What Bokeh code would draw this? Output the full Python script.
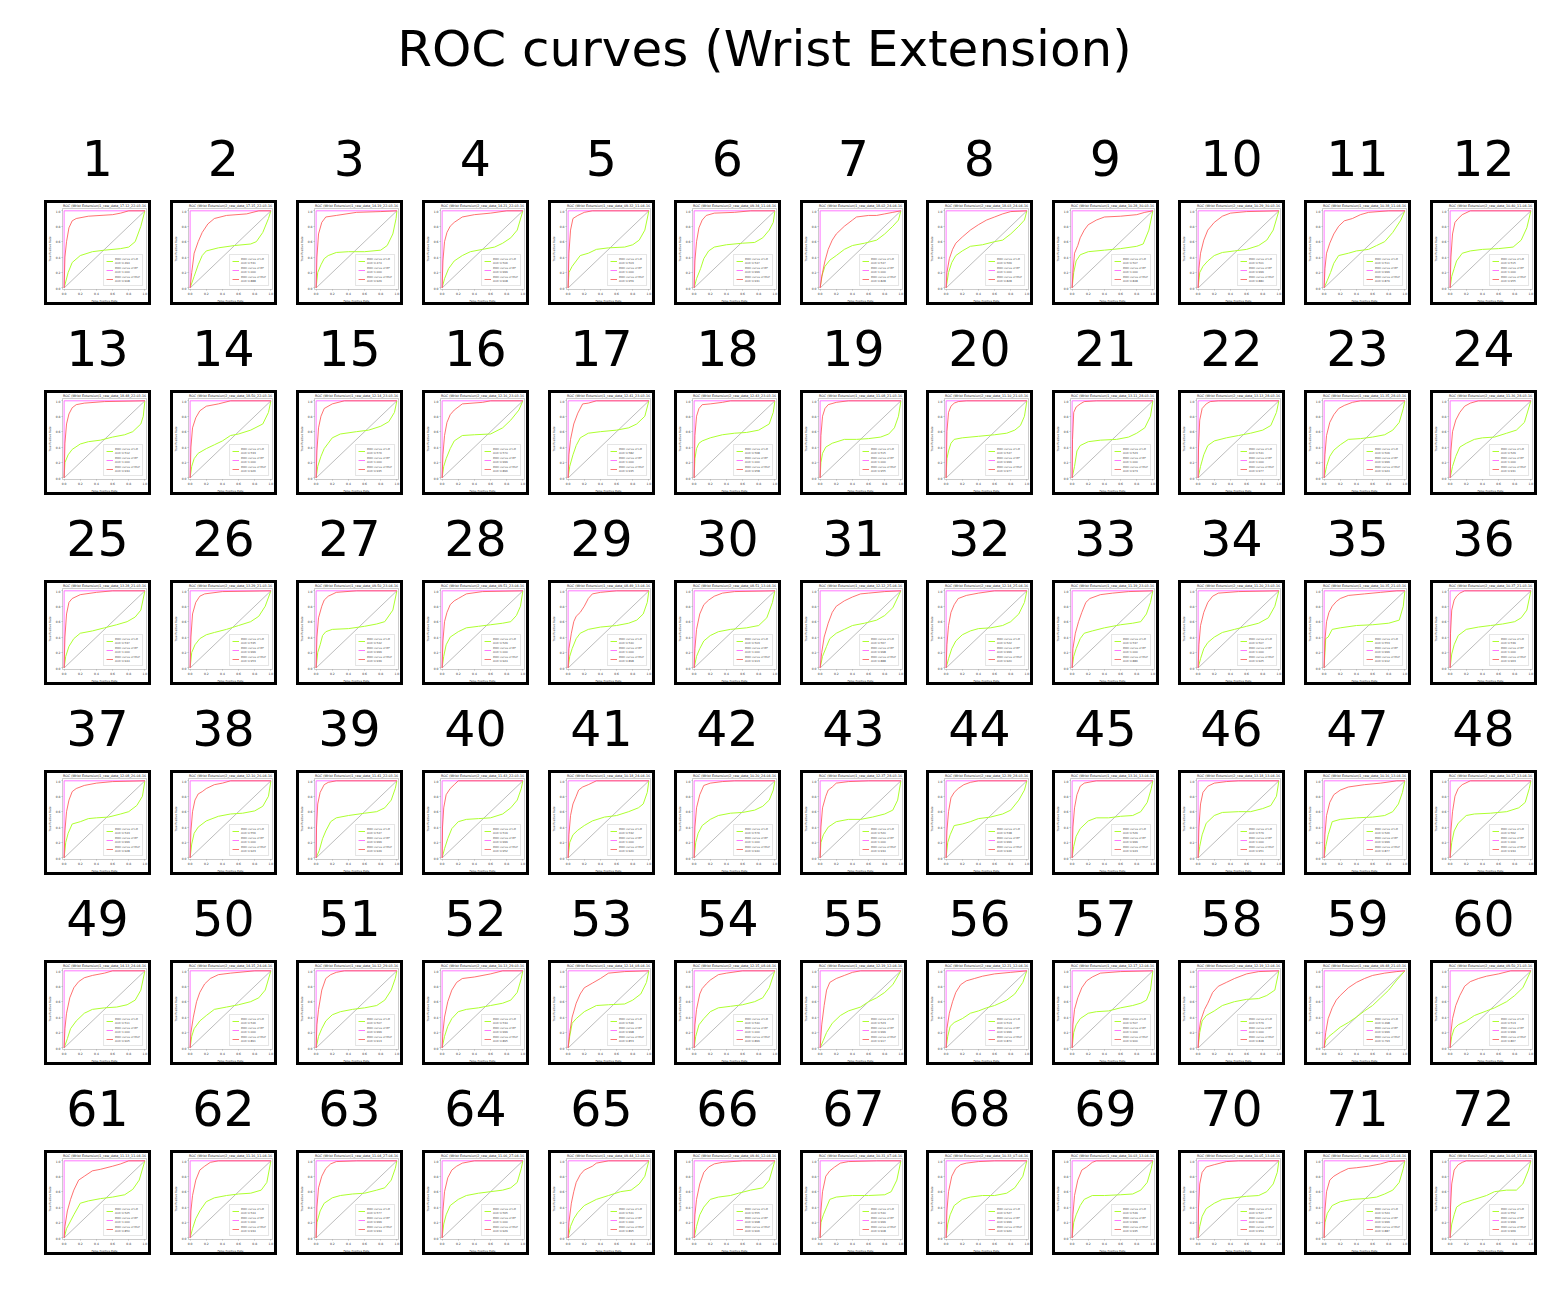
from bokeh.plotting import figure
from bokeh.layouts import column, row, gridplot
from bokeh.models import Range1d, Spacer, Legend, LegendItem, FixedTicker, PrintfTickFormatter
from bokeh.embed import file_html
from bokeh.resources import INLINE
from bokeh.core.properties import value

SUPTITLE = "ROC curves (Wrist Extension)"
PANEL_NUMBERS = [str(i) for i in range(1, 73)]
TICKS = [0.0, 0.2, 0.4, 0.6, 0.8, 1.0]
CHANCE = [0.0, 1.0]
RF_FPR = [0.0, 0.0, 1.0]
RF_TPR = [0.0, 1.0, 1.0]

RUN_NAMES = [
    "1_raw_data_17-12_22-03-16", "2_raw_data_17-15_22-03-16", "1_raw_data_14-19_22-03-16", "2_raw_data_14-21_22-03-16",
    "1_raw_data_09-32_11-04-16", "2_raw_data_09-34_11-04-16", "1_raw_data_18-02_24-04-16", "2_raw_data_18-03_24-04-16",
    "1_raw_data_10-28_30-03-16", "2_raw_data_10-29_30-03-16", "1_raw_data_10-38_11-04-16", "2_raw_data_10-40_11-04-16",
    "1_raw_data_18-48_22-03-16", "2_raw_data_18-50_22-03-16", "1_raw_data_12-14_23-03-16", "2_raw_data_12-16_23-03-16",
    "1_raw_data_12-41_23-03-16", "2_raw_data_12-43_23-03-16", "1_raw_data_11-08_21-03-16", "2_raw_data_11-10_21-03-16",
    "1_raw_data_13-11_28-03-16", "2_raw_data_13-13_28-03-16", "1_raw_data_11-35_28-03-16", "2_raw_data_11-36_28-03-16",
    "1_raw_data_13-28_21-03-16", "2_raw_data_13-29_21-03-16", "1_raw_data_09-50_23-04-16", "2_raw_data_09-51_23-04-16",
    "1_raw_data_08-49_13-04-16", "2_raw_data_08-51_13-04-16", "1_raw_data_12-12_25-04-16", "2_raw_data_12-14_25-04-16",
    "1_raw_data_11-19_23-03-16", "2_raw_data_11-20_23-03-16", "1_raw_data_10-35_21-03-16", "2_raw_data_10-37_21-03-16",
    "1_raw_data_12-08_26-04-16", "2_raw_data_12-10_26-04-16", "1_raw_data_11-41_22-03-16", "2_raw_data_11-43_22-03-16",
    "1_raw_data_10-18_24-04-16", "2_raw_data_10-20_24-04-16", "1_raw_data_12-37_28-03-16", "2_raw_data_12-39_28-03-16",
    "1_raw_data_13-16_13-04-16", "2_raw_data_13-18_13-04-16", "1_raw_data_10-16_13-04-16", "2_raw_data_10-17_13-04-16",
    "1_raw_data_14-13_24-04-16", "2_raw_data_14-15_24-04-16", "1_raw_data_10-12_29-03-16", "2_raw_data_10-13_29-03-16",
    "1_raw_data_12-14_08-04-16", "2_raw_data_12-15_08-04-16", "1_raw_data_12-19_12-04-16", "2_raw_data_12-21_12-04-16",
    "1_raw_data_12-17_12-04-16", "2_raw_data_12-19_12-04-16", "1_raw_data_09-48_21-03-16", "2_raw_data_09-50_21-03-16",
    "1_raw_data_11-13_11-04-16", "2_raw_data_11-16_11-04-16", "1_raw_data_11-04_27-04-16", "2_raw_data_11-06_27-04-16",
    "1_raw_data_09-44_12-04-16", "2_raw_data_09-46_12-04-16", "1_raw_data_10-31_07-04-16", "2_raw_data_10-33_07-04-16",
    "1_raw_data_10-03_13-04-16", "2_raw_data_10-05_13-04-16", "1_raw_data_10-03_15-04-16", "2_raw_data_10-04_15-04-16",
]

AUC_LR = [0.494, 0.531, 0.474, 0.506, 0.503, 0.547, 0.547, 0.569, 0.507, 0.501, 0.511, 0.515,
          0.512, 0.533, 0.576, 0.570, 0.582, 0.568, 0.515, 0.547, 0.523, 0.541, 0.509, 0.529,
          0.537, 0.535, 0.542, 0.529, 0.540, 0.503, 0.567, 0.522, 0.537, 0.507, 0.553, 0.539,
          0.543, 0.556, 0.547, 0.519, 0.532, 0.576, 0.520, 0.538, 0.529, 0.579, 0.526, 0.562,
          0.511, 0.546, 0.507, 0.534, 0.546, 0.540, 0.523, 0.513, 0.507, 0.579, 0.498, 0.513,
          0.525, 0.544, 0.577, 0.565, 0.541, 0.555, 0.540, 0.527, 0.549, 0.527, 0.524, 0.552]
AUC_RF = [1.000, 1.000, 1.000, 0.999, 1.000, 0.999, 1.000, 1.000, 1.000, 0.999, 0.999, 1.000,
          1.000, 1.000, 1.000, 0.999, 1.000, 1.000, 1.000, 0.999, 1.000, 1.000, 0.999, 1.000,
          1.000, 0.999, 0.999, 1.000, 1.000, 1.000, 0.998, 0.999, 1.000, 1.000, 0.999, 1.000,
          0.999, 1.000, 0.999, 0.999, 1.000, 1.000, 1.000, 0.999, 0.999, 1.000, 0.999, 1.000,
          1.000, 1.000, 0.999, 0.999, 0.998, 1.000, 0.999, 0.999, 1.000, 1.000, 0.999, 0.999,
          1.000, 1.000, 0.999, 1.000, 1.000, 0.998, 0.999, 0.999, 0.999, 1.000, 0.999, 0.999]
AUC_MLP = [0.908, 0.888, 0.929, 0.908, 0.959, 0.931, 0.828, 0.828, 0.848, 0.880, 0.879, 0.955,
           0.934, 0.926, 0.935, 0.896, 0.935, 0.958, 0.955, 0.977, 0.973, 0.977, 0.924, 0.931,
           0.944, 0.953, 0.939, 0.924, 0.898, 0.913, 0.888, 0.920, 0.886, 0.925, 0.912, 0.963,
           0.928, 0.923, 0.949, 0.952, 0.920, 0.940, 0.934, 0.946, 0.943, 0.951, 0.877, 0.934,
           0.905, 0.891, 0.913, 0.895, 0.853, 0.899, 0.917, 0.870, 0.900, 0.848, 0.793, 0.867,
           0.850, 0.934, 0.934, 0.929, 0.895, 0.906, 0.908, 0.920, 0.935, 0.954, 0.887, 0.969]

# (false positive rate, true positive rate) points, one list per panel
MLP_CURVES = [
    [(0,0),(0.01,0.4),(0.03,0.6),(0.06,0.78),(0.1,0.87),(0.15,0.9),(0.3,0.93),(0.6,0.95),(0.7,0.97),(0.8,1.0),(1,1)],
    [(0,0),(0.02,0.2),(0.05,0.45),(0.1,0.6),(0.15,0.72),(0.22,0.83),(0.3,0.9),(0.45,0.94),(0.7,0.96),(0.85,1.0),(1,1)],
    [(0,0),(0.01,0.4),(0.03,0.7),(0.07,0.85),(0.12,0.92),(0.25,0.94),(0.5,0.98),(0.8,0.99),(1,1)],
    [(0,0),(0.01,0.35),(0.03,0.6),(0.06,0.72),(0.1,0.8),(0.15,0.85),(0.25,0.92),(0.4,0.95),(0.6,0.97),(0.8,1.0),(1,1)],
    [(0,0),(0.01,0.45),(0.03,0.75),(0.06,0.9),(0.12,0.94),(0.2,0.98),(0.3,1.0),(1,1)],
    [(0,0),(0.01,0.35),(0.03,0.6),(0.06,0.78),(0.1,0.88),(0.15,0.94),(0.25,0.97),(0.5,0.98),(0.7,1.0),(1,1)],
    [(0,0),(0.03,0.2),(0.06,0.35),(0.1,0.5),(0.15,0.62),(0.2,0.7),(0.3,0.8),(0.4,0.88),(0.45,0.92),(0.6,0.94),(0.7,0.94),(0.8,0.96),(0.9,0.98),(1,1)],
    [(0,0),(0.01,0.2),(0.04,0.38),(0.08,0.5),(0.12,0.58),(0.2,0.66),(0.3,0.75),(0.4,0.82),(0.5,0.88),(0.6,0.92),(0.7,0.96),(0.8,0.99),(1,1)],
    [(0,0),(0.01,0.2),(0.03,0.45),(0.07,0.55),(0.1,0.65),(0.15,0.75),(0.2,0.82),(0.3,0.88),(0.4,0.92),(0.6,0.93),(0.8,0.95),(0.9,0.98),(1,1)],
    [(0,0),(0.01,0.25),(0.03,0.45),(0.07,0.62),(0.12,0.75),(0.2,0.85),(0.3,0.93),(0.4,0.97),(0.6,0.99),(1,1)],
    [(0,0),(0.01,0.25),(0.03,0.45),(0.07,0.58),(0.12,0.7),(0.18,0.8),(0.25,0.87),(0.35,0.9),(0.45,0.95),(0.55,0.98),(0.8,1.0),(1,1)],
    [(0,0),(0.01,0.4),(0.03,0.7),(0.06,0.85),(0.1,0.9),(0.15,0.95),(0.25,1.0),(1,1)],
    [(0,0),(0.01,0.45),(0.03,0.7),(0.06,0.83),(0.1,0.91),(0.15,0.95),(0.25,0.97),(0.5,0.99),(1,1)],
    [(0,0),(0.01,0.4),(0.03,0.65),(0.07,0.78),(0.12,0.87),(0.2,0.93),(0.35,0.96),(0.5,1.0),(1,1)],
    [(0,0),(0.01,0.35),(0.03,0.65),(0.06,0.8),(0.1,0.9),(0.2,0.96),(0.35,1.0),(1,1)],
    [(0,0),(0.01,0.3),(0.03,0.55),(0.06,0.72),(0.1,0.82),(0.15,0.88),(0.25,0.96),(0.5,0.98),(0.6,1.0),(1,1)],
    [(0,0),(0.01,0.3),(0.03,0.5),(0.07,0.7),(0.12,0.84),(0.18,0.96),(0.25,0.97),(0.35,1.0),(1,1)],
    [(0,0),(0.01,0.55),(0.03,0.8),(0.06,0.9),(0.1,0.95),(0.2,0.96),(0.35,0.98),(0.45,1.0),(1,1)],
    [(0,0),(0.01,0.55),(0.03,0.8),(0.06,0.9),(0.1,0.95),(0.2,0.98),(0.35,1.0),(1,1)],
    [(0,0),(0.01,0.6),(0.03,0.85),(0.06,0.93),(0.1,0.97),(0.15,0.99),(0.25,1.0),(1,1)],
    [(0,0),(0.005,0.5),(0.02,0.85),(0.05,0.92),(0.1,0.96),(0.15,0.99),(0.3,1.0),(1,1)],
    [(0,0),(0.005,0.4),(0.02,0.75),(0.05,0.9),(0.1,0.96),(0.15,0.99),(0.25,1.0),(1,1)],
    [(0,0),(0.01,0.3),(0.03,0.55),(0.07,0.72),(0.12,0.82),(0.18,0.9),(0.25,0.94),(0.35,0.98),(0.45,1.0),(1,1)],
    [(0,0),(0.01,0.35),(0.03,0.6),(0.07,0.75),(0.12,0.85),(0.18,0.93),(0.25,0.97),(0.35,1.0),(1,1)],
    [(0,0),(0.01,0.4),(0.03,0.7),(0.06,0.85),(0.1,0.9),(0.2,0.95),(0.4,0.98),(0.6,1.0),(1,1)],
    [(0,0),(0.01,0.4),(0.03,0.7),(0.07,0.85),(0.12,0.93),(0.18,0.96),(0.4,0.99),(1,1)],
    [(0,0),(0.01,0.4),(0.03,0.65),(0.07,0.8),(0.1,0.88),(0.15,0.93),(0.25,0.98),(0.5,1.0),(1,1)],
    [(0,0),(0.01,0.35),(0.03,0.6),(0.06,0.72),(0.1,0.82),(0.15,0.87),(0.2,0.9),(0.25,0.93),(0.3,0.96),(0.5,0.99),(1,1)],
    [(0,0),(0.01,0.25),(0.04,0.45),(0.07,0.6),(0.1,0.67),(0.15,0.72),(0.2,0.8),(0.25,0.9),(0.3,0.96),(0.4,0.98),(0.6,1.0),(1,1)],
    [(0,0),(0.01,0.25),(0.03,0.5),(0.07,0.7),(0.12,0.82),(0.18,0.88),(0.25,0.93),(0.35,0.97),(0.5,0.99),(1,1)],
    [(0,0),(0.02,0.2),(0.05,0.4),(0.1,0.58),(0.15,0.72),(0.2,0.8),(0.3,0.87),(0.4,0.92),(0.5,0.96),(0.6,0.97),(0.8,0.99),(1,1)],
    [(0,0),(0.01,0.3),(0.03,0.55),(0.06,0.72),(0.1,0.82),(0.15,0.9),(0.25,0.94),(0.4,0.97),(0.6,1.0),(1,1)],
    [(0,0),(0.01,0.25),(0.04,0.45),(0.08,0.6),(0.12,0.72),(0.17,0.85),(0.22,0.9),(0.35,0.95),(0.5,0.97),(0.7,0.99),(1,1)],
    [(0,0),(0.01,0.3),(0.03,0.55),(0.07,0.72),(0.12,0.85),(0.18,0.93),(0.25,0.97),(0.5,0.99),(1,1)],
    [(0,0),(0.01,0.35),(0.03,0.6),(0.06,0.72),(0.1,0.8),(0.15,0.86),(0.2,0.9),(0.3,0.94),(0.5,0.96),(0.7,0.98),(0.9,1.0),(1,1)],
    [(0,0),(0.005,0.45),(0.02,0.75),(0.05,0.88),(0.08,0.93),(0.12,0.97),(0.18,1.0),(1,1)],
    [(0,0),(0.01,0.35),(0.03,0.6),(0.06,0.75),(0.1,0.86),(0.15,0.9),(0.25,0.94),(0.4,0.97),(0.6,0.99),(1,1)],
    [(0,0),(0.01,0.35),(0.03,0.6),(0.06,0.75),(0.1,0.83),(0.15,0.86),(0.2,0.9),(0.3,0.95),(0.4,0.97),(0.5,1.0),(1,1)],
    [(0,0),(0.005,0.4),(0.02,0.7),(0.05,0.85),(0.1,0.95),(0.15,0.98),(0.25,1.0),(1,1)],
    [(0,0),(0.005,0.4),(0.02,0.65),(0.05,0.82),(0.1,0.9),(0.15,0.95),(0.2,1.0),(1,1)],
    [(0,0),(0.01,0.3),(0.03,0.55),(0.06,0.7),(0.1,0.8),(0.13,0.88),(0.18,0.92),(0.25,0.95),(0.35,1.0),(1,1)],
    [(0,0),(0.01,0.4),(0.03,0.65),(0.07,0.82),(0.12,0.94),(0.2,0.97),(0.35,0.99),(0.5,1.0),(1,1)],
    [(0,0),(0.01,0.4),(0.03,0.65),(0.07,0.8),(0.1,0.88),(0.15,0.92),(0.2,0.97),(0.35,0.99),(0.6,1.0),(1,1)],
    [(0,0),(0.01,0.35),(0.03,0.6),(0.06,0.78),(0.1,0.85),(0.15,0.9),(0.22,0.95),(0.3,0.98),(0.4,1.0),(1,1)],
    [(0,0),(0.01,0.4),(0.03,0.65),(0.06,0.82),(0.1,0.93),(0.15,0.97),(0.3,1.0),(1,1)],
    [(0,0),(0.01,0.4),(0.03,0.7),(0.06,0.85),(0.12,0.93),(0.2,0.97),(0.35,0.99),(0.5,1.0),(1,1)],
    [(0,0),(0.01,0.3),(0.03,0.55),(0.07,0.72),(0.12,0.82),(0.2,0.88),(0.3,0.92),(0.5,0.95),(0.7,0.97),(0.9,1.0),(1,1)],
    [(0,0),(0.01,0.35),(0.03,0.6),(0.06,0.8),(0.1,0.9),(0.15,0.95),(0.25,1.0),(1,1)],
    [(0,0),(0.01,0.25),(0.03,0.45),(0.07,0.65),(0.12,0.78),(0.18,0.86),(0.25,0.91),(0.35,0.94),(0.5,0.97),(0.6,1.0),(1,1)],
    [(0,0),(0.01,0.2),(0.04,0.4),(0.08,0.6),(0.12,0.72),(0.18,0.83),(0.25,0.9),(0.35,0.95),(0.5,0.97),(0.8,1.0),(1,1)],
    [(0,0),(0.01,0.3),(0.03,0.5),(0.07,0.75),(0.12,0.9),(0.18,0.95),(0.25,0.98),(0.35,1.0),(1,1)],
    [(0,0),(0.01,0.2),(0.03,0.4),(0.07,0.6),(0.12,0.75),(0.18,0.85),(0.25,0.9),(0.4,0.92),(0.6,0.96),(0.75,1.0),(1,1)],
    [(0,0),(0.02,0.2),(0.05,0.4),(0.1,0.58),(0.15,0.7),(0.2,0.78),(0.3,0.84),(0.4,0.9),(0.5,0.97),(0.7,0.99),(1,1)],
    [(0,0),(0.01,0.3),(0.03,0.5),(0.07,0.7),(0.1,0.77),(0.15,0.83),(0.2,0.88),(0.3,0.95),(0.4,0.97),(0.6,1.0),(1,1)],
    [(0,0),(0.02,0.3),(0.05,0.55),(0.08,0.75),(0.12,0.85),(0.2,0.9),(0.3,0.94),(0.4,0.98),(0.5,1.0),(1,1)],
    [(0,0),(0.01,0.25),(0.04,0.45),(0.08,0.6),(0.12,0.72),(0.18,0.82),(0.25,0.87),(0.35,0.9),(0.45,0.93),(0.6,0.96),(0.8,0.98),(1,1)],
    [(0,0),(0.01,0.3),(0.03,0.5),(0.07,0.65),(0.12,0.78),(0.18,0.87),(0.25,0.92),(0.35,0.97),(0.6,0.99),(1,1)],
    [(0,0),(0.01,0.2),(0.03,0.35),(0.08,0.5),(0.12,0.58),(0.18,0.72),(0.25,0.8),(0.35,0.85),(0.45,0.9),(0.6,0.96),(0.75,0.99),(1,1)],
    [(0,0),(0.02,0.2),(0.05,0.38),(0.1,0.52),(0.15,0.62),(0.2,0.68),(0.3,0.78),(0.4,0.85),(0.5,0.9),(0.6,0.94),(0.75,0.97),(0.9,0.99),(1,1)],
    [(0,0),(0.01,0.2),(0.03,0.38),(0.07,0.55),(0.12,0.68),(0.18,0.8),(0.25,0.86),(0.35,0.9),(0.45,0.93),(0.6,0.96),(0.75,1.0),(1,1)],
    [(0,0),(0.01,0.15),(0.04,0.35),(0.08,0.5),(0.12,0.62),(0.18,0.75),(0.25,0.8),(0.35,0.87),(0.45,0.89),(0.6,0.93),(0.7,0.96),(0.8,1.0),(1,1)],
    [(0,0),(0.01,0.35),(0.03,0.55),(0.07,0.75),(0.12,0.88),(0.18,0.93),(0.25,0.98),(0.35,1.0),(1,1)],
    [(0,0),(0.01,0.4),(0.03,0.65),(0.07,0.8),(0.12,0.9),(0.18,0.96),(0.25,0.99),(0.5,1.0),(1,1)],
    [(0,0),(0.01,0.35),(0.03,0.6),(0.07,0.78),(0.12,0.88),(0.18,0.93),(0.25,0.97),(0.4,1.0),(1,1)],
    [(0,0),(0.01,0.2),(0.04,0.45),(0.07,0.6),(0.1,0.72),(0.15,0.82),(0.2,0.88),(0.3,0.93),(0.35,0.97),(0.5,1.0),(1,1)],
    [(0,0),(0.01,0.3),(0.03,0.5),(0.07,0.7),(0.12,0.85),(0.18,0.92),(0.25,0.96),(0.35,0.98),(0.6,1.0),(1,1)],
    [(0,0),(0.01,0.35),(0.03,0.6),(0.07,0.8),(0.12,0.87),(0.18,0.92),(0.25,0.97),(0.35,0.99),(0.7,1.0),(1,1)],
    [(0,0),(0.01,0.35),(0.03,0.6),(0.07,0.8),(0.12,0.9),(0.18,0.95),(0.25,0.97),(0.4,0.99),(0.6,1.0),(1,1)],
    [(0,0),(0.01,0.3),(0.03,0.55),(0.07,0.75),(0.12,0.88),(0.18,0.92),(0.25,0.98),(0.3,1.0),(1,1)],
    [(0,0),(0.005,0.4),(0.02,0.7),(0.05,0.85),(0.1,0.92),(0.2,0.95),(0.35,0.99),(0.5,1.0),(1,1)],
    [(0,0),(0.01,0.35),(0.03,0.6),(0.07,0.75),(0.12,0.8),(0.2,0.85),(0.3,0.9),(0.4,0.91),(0.55,0.93),(0.7,0.96),(0.8,0.99),(1,1)],
    [(0,0),(0.005,0.4),(0.02,0.7),(0.05,0.88),(0.1,0.95),(0.15,0.98),(0.2,1.0),(1,1)],
]

LR_CURVES = [
    [(0,0),(0.05,0.2),(0.1,0.33),(0.2,0.42),(0.35,0.47),(0.5,0.49),(0.7,0.51),(0.8,0.53),(0.88,0.6),(0.95,0.8),(1,1)],
    [(0,0),(0.05,0.15),(0.1,0.3),(0.15,0.42),(0.2,0.48),(0.35,0.52),(0.55,0.55),(0.75,0.57),(0.82,0.6),(0.9,0.72),(0.97,0.9),(1,1)],
    [(0,0),(0.02,0.2),(0.06,0.3),(0.1,0.38),(0.15,0.42),(0.25,0.46),(0.4,0.47),(0.6,0.47),(0.8,0.49),(0.88,0.55),(0.95,0.7),(0.99,0.9),(1,1)],
    [(0,0),(0.03,0.12),(0.08,0.25),(0.15,0.35),(0.25,0.42),(0.35,0.47),(0.5,0.5),(0.65,0.53),(0.75,0.58),(0.85,0.65),(0.93,0.75),(1,1)],
    [(0,0),(0.01,0.2),(0.05,0.28),(0.1,0.35),(0.15,0.42),(0.25,0.45),(0.35,0.5),(0.5,0.52),(0.7,0.53),(0.8,0.56),(0.88,0.62),(0.95,0.75),(1,1)],
    [(0,0),(0.03,0.12),(0.08,0.25),(0.12,0.38),(0.18,0.48),(0.25,0.53),(0.4,0.56),(0.6,0.58),(0.75,0.59),(0.85,0.65),(0.93,0.75),(0.98,0.85),(1,1)],
    [(0,0),(0.02,0.15),(0.06,0.28),(0.12,0.36),(0.2,0.42),(0.3,0.5),(0.4,0.55),(0.55,0.58),(0.7,0.62),(0.8,0.7),(0.9,0.8),(0.97,0.88),(1,1)],
    [(0,0),(0.03,0.2),(0.07,0.33),(0.12,0.42),(0.2,0.48),(0.3,0.54),(0.45,0.56),(0.6,0.6),(0.7,0.62),(0.8,0.7),(0.9,0.8),(0.97,0.88),(1,1)],
    [(0,0),(0.02,0.2),(0.05,0.35),(0.1,0.43),(0.2,0.47),(0.4,0.49),(0.6,0.51),(0.8,0.54),(0.88,0.57),(0.95,0.75),(1,1)],
    [(0,0),(0.02,0.2),(0.06,0.28),(0.12,0.35),(0.2,0.42),(0.3,0.46),(0.45,0.48),(0.6,0.5),(0.75,0.55),(0.85,0.62),(0.93,0.75),(1,1)],
    [(0,0),(0.04,0.1),(0.08,0.2),(0.12,0.32),(0.18,0.42),(0.3,0.45),(0.4,0.48),(0.55,0.5),(0.65,0.55),(0.75,0.6),(0.85,0.72),(0.95,0.88),(1,1)],
    [(0,0),(0.02,0.15),(0.05,0.25),(0.08,0.35),(0.15,0.45),(0.25,0.48),(0.4,0.5),(0.6,0.51),(0.78,0.53),(0.88,0.62),(0.95,0.78),(1,1)],
    [(0,0),(0.01,0.2),(0.05,0.3),(0.1,0.37),(0.2,0.44),(0.3,0.47),(0.45,0.49),(0.6,0.53),(0.75,0.56),(0.85,0.6),(0.95,0.7),(0.98,0.8),(1,1)],
    [(0,0),(0.02,0.15),(0.05,0.25),(0.1,0.32),(0.2,0.38),(0.3,0.43),(0.4,0.48),(0.5,0.55),(0.6,0.57),(0.75,0.62),(0.9,0.7),(0.97,0.85),(1,1)],
    [(0,0),(0.02,0.15),(0.06,0.28),(0.1,0.38),(0.15,0.45),(0.2,0.52),(0.3,0.57),(0.5,0.6),(0.65,0.62),(0.8,0.67),(0.9,0.73),(0.97,0.85),(1,1)],
    [(0,0),(0.02,0.15),(0.05,0.25),(0.1,0.38),(0.15,0.48),(0.25,0.55),(0.4,0.56),(0.6,0.57),(0.75,0.65),(0.85,0.75),(0.95,0.88),(1,1)],
    [(0,0),(0.02,0.15),(0.06,0.3),(0.1,0.42),(0.15,0.52),(0.25,0.58),(0.4,0.6),(0.6,0.62),(0.75,0.65),(0.85,0.7),(0.95,0.8),(1,1)],
    [(0,0),(0.01,0.25),(0.03,0.38),(0.06,0.45),(0.1,0.48),(0.2,0.52),(0.35,0.56),(0.5,0.58),(0.65,0.59),(0.8,0.62),(0.93,0.7),(0.98,0.85),(1,1)],
    [(0,0),(0.01,0.2),(0.03,0.32),(0.07,0.4),(0.15,0.45),(0.3,0.5),(0.45,0.5),(0.6,0.51),(0.75,0.53),(0.85,0.57),(0.92,0.65),(0.97,0.8),(1,1)],
    [(0,0),(0.01,0.25),(0.03,0.35),(0.06,0.45),(0.1,0.5),(0.2,0.52),(0.4,0.54),(0.6,0.56),(0.75,0.58),(0.85,0.62),(0.92,0.68),(0.97,0.8),(1,1)],
    [(0,0),(0.03,0.15),(0.06,0.35),(0.1,0.42),(0.2,0.47),(0.35,0.49),(0.55,0.5),(0.7,0.53),(0.8,0.58),(0.9,0.65),(0.97,0.8),(1,1)],
    [(0,0),(0.03,0.15),(0.07,0.3),(0.12,0.42),(0.2,0.48),(0.35,0.52),(0.5,0.55),(0.65,0.58),(0.8,0.62),(0.9,0.68),(0.97,0.85),(1,1)],
    [(0,0),(0.03,0.15),(0.07,0.28),(0.12,0.36),(0.2,0.43),(0.3,0.5),(0.45,0.51),(0.6,0.53),(0.75,0.56),(0.85,0.62),(0.93,0.72),(0.98,0.9),(1,1)],
    [(0,0),(0.03,0.15),(0.07,0.28),(0.12,0.4),(0.2,0.45),(0.3,0.5),(0.4,0.52),(0.55,0.53),(0.7,0.58),(0.82,0.62),(0.92,0.72),(1,1)],
    [(0,0),(0.02,0.15),(0.06,0.28),(0.12,0.38),(0.2,0.45),(0.35,0.48),(0.5,0.52),(0.65,0.56),(0.78,0.6),(0.88,0.66),(0.95,0.75),(1,1)],
    [(0,0),(0.02,0.2),(0.06,0.3),(0.12,0.38),(0.2,0.43),(0.3,0.46),(0.45,0.5),(0.6,0.55),(0.75,0.6),(0.85,0.67),(0.93,0.8),(1,1)],
    [(0,0),(0.02,0.2),(0.05,0.3),(0.08,0.42),(0.12,0.47),(0.2,0.5),(0.4,0.51),(0.6,0.54),(0.75,0.57),(0.85,0.6),(0.95,0.75),(1,1)],
    [(0,0),(0.02,0.15),(0.05,0.3),(0.1,0.4),(0.2,0.47),(0.3,0.52),(0.45,0.54),(0.6,0.56),(0.75,0.58),(0.85,0.6),(0.92,0.68),(0.97,0.8),(1,1)],
    [(0,0),(0.02,0.15),(0.05,0.25),(0.1,0.38),(0.15,0.45),(0.25,0.5),(0.4,0.53),(0.6,0.55),(0.75,0.58),(0.85,0.62),(0.93,0.7),(0.98,0.85),(1,1)],
    [(0,0),(0.03,0.15),(0.07,0.25),(0.12,0.35),(0.2,0.42),(0.3,0.47),(0.45,0.5),(0.65,0.52),(0.8,0.55),(0.9,0.65),(0.97,0.85),(1,1)],
    [(0,0),(0.03,0.15),(0.08,0.28),(0.12,0.38),(0.2,0.45),(0.3,0.5),(0.4,0.55),(0.55,0.58),(0.7,0.62),(0.8,0.68),(0.9,0.78),(1,1)],
    [(0,0),(0.03,0.12),(0.07,0.25),(0.12,0.35),(0.2,0.43),(0.3,0.48),(0.4,0.51),(0.55,0.52),(0.7,0.55),(0.8,0.6),(0.9,0.7),(0.97,0.85),(1,1)],
    [(0,0),(0.02,0.15),(0.05,0.25),(0.1,0.38),(0.15,0.45),(0.25,0.48),(0.4,0.52),(0.6,0.56),(0.75,0.58),(0.85,0.6),(0.92,0.7),(0.97,0.85),(1,1)],
    [(0,0),(0.03,0.12),(0.07,0.25),(0.12,0.33),(0.2,0.4),(0.3,0.46),(0.45,0.5),(0.6,0.54),(0.75,0.58),(0.87,0.65),(0.95,0.8),(1,1)],
    [(0,0),(0.01,0.2),(0.02,0.38),(0.05,0.4),(0.1,0.5),(0.2,0.52),(0.4,0.55),(0.6,0.56),(0.8,0.58),(0.93,0.62),(0.98,0.8),(1,1)],
    [(0,0),(0.02,0.18),(0.05,0.3),(0.1,0.42),(0.2,0.5),(0.35,0.53),(0.5,0.55),(0.65,0.57),(0.8,0.6),(0.88,0.65),(0.95,0.75),(1,1)],
    [(0,0),(0.02,0.2),(0.05,0.32),(0.1,0.44),(0.2,0.47),(0.3,0.51),(0.4,0.52),(0.55,0.53),(0.7,0.57),(0.8,0.6),(0.9,0.68),(0.97,0.8),(1,1)],
    [(0,0),(0.02,0.18),(0.05,0.32),(0.1,0.4),(0.2,0.48),(0.35,0.54),(0.5,0.57),(0.65,0.58),(0.8,0.61),(0.9,0.67),(0.97,0.8),(1,1)],
    [(0,0),(0.04,0.1),(0.08,0.25),(0.12,0.35),(0.18,0.47),(0.25,0.52),(0.4,0.55),(0.6,0.58),(0.75,0.6),(0.85,0.65),(0.93,0.75),(0.98,0.9),(1,1)],
    [(0,0),(0.03,0.12),(0.07,0.25),(0.12,0.38),(0.2,0.47),(0.3,0.5),(0.45,0.51),(0.6,0.52),(0.75,0.57),(0.85,0.65),(0.93,0.75),(0.98,0.9),(1,1)],
    [(0,0),(0.02,0.2),(0.06,0.3),(0.12,0.36),(0.2,0.42),(0.3,0.48),(0.45,0.53),(0.6,0.55),(0.75,0.6),(0.87,0.65),(0.93,0.7),(0.98,0.85),(1,1)],
    [(0,0),(0.02,0.2),(0.05,0.32),(0.1,0.42),(0.2,0.5),(0.3,0.55),(0.45,0.58),(0.6,0.59),(0.75,0.62),(0.85,0.67),(0.93,0.75),(0.98,0.88),(1,1)],
    [(0,0),(0.01,0.2),(0.04,0.3),(0.1,0.4),(0.2,0.47),(0.35,0.5),(0.5,0.5),(0.65,0.53),(0.8,0.57),(0.9,0.62),(0.96,0.75),(1,1)],
    [(0,0),(0.02,0.2),(0.05,0.3),(0.1,0.42),(0.2,0.44),(0.3,0.47),(0.4,0.51),(0.55,0.53),(0.7,0.57),(0.8,0.62),(0.9,0.75),(0.97,0.88),(1,1)],
    [(0,0),(0.02,0.15),(0.05,0.28),(0.1,0.38),(0.2,0.48),(0.3,0.52),(0.45,0.52),(0.6,0.54),(0.75,0.55),(0.85,0.6),(0.93,0.72),(0.98,0.9),(1,1)],
    [(0,0),(0.02,0.15),(0.05,0.3),(0.1,0.45),(0.2,0.55),(0.3,0.59),(0.5,0.6),(0.65,0.6),(0.8,0.64),(0.9,0.68),(0.97,0.8),(1,1)],
    [(0,0),(0.02,0.15),(0.05,0.3),(0.1,0.47),(0.2,0.5),(0.4,0.52),(0.6,0.53),(0.75,0.55),(0.85,0.6),(0.92,0.7),(0.97,0.85),(1,1)],
    [(0,0),(0.02,0.2),(0.05,0.35),(0.1,0.45),(0.2,0.55),(0.3,0.57),(0.5,0.58),(0.7,0.6),(0.85,0.65),(0.93,0.72),(0.98,0.9),(1,1)],
    [(0,0),(0.04,0.12),(0.08,0.25),(0.15,0.35),(0.25,0.45),(0.35,0.5),(0.5,0.52),(0.65,0.53),(0.78,0.56),(0.88,0.62),(0.95,0.75),(1,1)],
    [(0,0),(0.02,0.15),(0.05,0.25),(0.12,0.35),(0.2,0.42),(0.3,0.5),(0.45,0.53),(0.6,0.56),(0.75,0.6),(0.85,0.65),(0.93,0.75),(1,1)],
    [(0,0),(0.03,0.15),(0.07,0.25),(0.12,0.35),(0.2,0.43),(0.3,0.47),(0.45,0.5),(0.6,0.52),(0.75,0.55),(0.85,0.62),(0.93,0.75),(0.98,0.9),(1,1)],
    [(0,0),(0.03,0.15),(0.07,0.28),(0.12,0.38),(0.2,0.47),(0.3,0.5),(0.45,0.52),(0.6,0.55),(0.75,0.58),(0.85,0.62),(0.93,0.72),(0.98,0.9),(1,1)],
    [(0,0),(0.02,0.15),(0.05,0.32),(0.1,0.38),(0.2,0.47),(0.35,0.55),(0.5,0.56),(0.7,0.57),(0.8,0.62),(0.9,0.7),(0.97,0.85),(1,1)],
    [(0,0),(0.02,0.15),(0.06,0.3),(0.12,0.38),(0.2,0.47),(0.3,0.52),(0.45,0.54),(0.6,0.56),(0.75,0.6),(0.85,0.65),(0.93,0.78),(1,1)],
    [(0,0),(0.04,0.1),(0.08,0.2),(0.15,0.32),(0.25,0.42),(0.35,0.48),(0.5,0.53),(0.6,0.6),(0.7,0.65),(0.8,0.72),(0.9,0.82),(1,1)],
    [(0,0),(0.02,0.15),(0.05,0.28),(0.1,0.33),(0.2,0.38),(0.3,0.45),(0.4,0.48),(0.5,0.52),(0.6,0.55),(0.75,0.62),(0.85,0.7),(0.95,0.85),(1,1)],
    [(0,0),(0.02,0.2),(0.05,0.3),(0.1,0.38),(0.2,0.45),(0.3,0.47),(0.45,0.48),(0.6,0.52),(0.75,0.55),(0.85,0.58),(0.92,0.62),(0.97,0.75),(1,1)],
    [(0,0),(0.02,0.2),(0.05,0.35),(0.1,0.42),(0.2,0.48),(0.3,0.55),(0.45,0.6),(0.6,0.63),(0.75,0.64),(0.85,0.68),(0.95,0.75),(1,1)],
    [(0,0),(0.02,0.1),(0.06,0.15),(0.12,0.2),(0.2,0.27),(0.3,0.33),(0.4,0.4),(0.5,0.48),(0.6,0.55),(0.7,0.65),(0.8,0.75),(0.9,0.88),(1,1)],
    [(0,0),(0.02,0.15),(0.05,0.25),(0.1,0.3),(0.2,0.35),(0.3,0.42),(0.45,0.48),(0.55,0.52),(0.7,0.6),(0.8,0.68),(0.9,0.78),(1,1)],
    [(0,0),(0.03,0.12),(0.08,0.22),(0.12,0.3),(0.2,0.45),(0.3,0.48),(0.45,0.51),(0.6,0.53),(0.75,0.56),(0.85,0.63),(0.93,0.75),(1,1)],
    [(0,0),(0.03,0.12),(0.07,0.25),(0.12,0.35),(0.2,0.47),(0.3,0.52),(0.45,0.55),(0.6,0.57),(0.75,0.58),(0.88,0.62),(0.95,0.72),(1,1)],
    [(0,0),(0.01,0.2),(0.05,0.35),(0.1,0.45),(0.2,0.52),(0.3,0.55),(0.45,0.57),(0.6,0.58),(0.75,0.62),(0.85,0.65),(0.93,0.75),(0.98,0.9),(1,1)],
    [(0,0),(0.02,0.18),(0.05,0.3),(0.1,0.42),(0.2,0.5),(0.3,0.55),(0.45,0.58),(0.6,0.6),(0.75,0.62),(0.85,0.65),(0.93,0.72),(0.98,0.9),(1,1)],
    [(0,0),(0.03,0.15),(0.07,0.25),(0.12,0.33),(0.2,0.42),(0.35,0.5),(0.5,0.55),(0.65,0.6),(0.78,0.62),(0.88,0.7),(0.95,0.8),(1,1)],
    [(0,0),(0.03,0.15),(0.07,0.3),(0.12,0.4),(0.2,0.5),(0.3,0.53),(0.45,0.55),(0.55,0.58),(0.7,0.62),(0.85,0.65),(0.93,0.75),(1,1)],
    [(0,0),(0.01,0.2),(0.04,0.3),(0.08,0.4),(0.12,0.5),(0.2,0.53),(0.4,0.55),(0.6,0.55),(0.8,0.56),(0.88,0.6),(0.95,0.75),(1,1)],
    [(0,0),(0.02,0.18),(0.05,0.3),(0.1,0.42),(0.2,0.5),(0.3,0.53),(0.45,0.55),(0.6,0.55),(0.75,0.58),(0.85,0.65),(0.95,0.8),(1,1)],
    [(0,0),(0.02,0.2),(0.05,0.3),(0.1,0.42),(0.15,0.5),(0.25,0.55),(0.4,0.55),(0.6,0.56),(0.75,0.57),(0.85,0.62),(0.93,0.72),(0.98,0.9),(1,1)],
    [(0,0),(0.02,0.15),(0.05,0.28),(0.1,0.38),(0.2,0.45),(0.3,0.5),(0.45,0.52),(0.6,0.54),(0.75,0.55),(0.85,0.6),(0.93,0.7),(0.98,0.85),(1,1)],
    [(0,0),(0.01,0.2),(0.04,0.32),(0.1,0.42),(0.2,0.47),(0.35,0.5),(0.5,0.51),(0.65,0.53),(0.75,0.57),(0.85,0.62),(0.93,0.72),(0.98,0.9),(1,1)],
    [(0,0),(0.02,0.18),(0.05,0.3),(0.08,0.4),(0.15,0.45),(0.3,0.5),(0.45,0.55),(0.55,0.6),(0.7,0.62),(0.82,0.62),(0.9,0.7),(0.97,0.88),(1,1)],
]

LR_COLOR = "#adff2f"
RF_COLOR = "#ff66ff"
MLP_COLOR = "#ff4d4d"
FONT = value("DejaVu Sans")


def blank_fig(width, height, y_top, left=0, right=0):
    p = figure(width=width, height=height, x_range=Range1d(0, 1), y_range=Range1d(0, y_top),
               output_backend="svg", toolbar_location=None, min_border=0,
               min_border_left=left, min_border_right=right, min_border_top=0, min_border_bottom=0,
               title=None, x_axis_location=None, y_axis_location=None)
    p.grid.visible = False
    p.outline_line_color = None
    return p


def number_fig(i):
    # same side borders as the thumbnails so the frames line up in the grid
    p = blank_fig(107, 85, 85, left=13, right=5)
    p.text(x=[0.416], y=[43], text=[PANEL_NUMBERS[i]], text_align="center",
           text_baseline="alphabetic", text_font_size="49px", text_font=FONT,
           text_color="black")
    return p


def thumb_fig(i):
    p = figure(width=107, height=105, x_range=Range1d(-0.02, 1.02), y_range=Range1d(-0.02, 1.03),
               output_backend="svg", toolbar_location=None,
               min_border_left=13, min_border_right=5, min_border_top=8, min_border_bottom=11,
               title="ROC (Wrist Extension)" + RUN_NAMES[i])
    p.title.text_font_size = "3.3px"
    p.title.text_font_style = "normal"
    p.title.text_font = "DejaVu Sans"
    p.title.text_color = "#222222"
    p.title.align = "center"
    p.title.standoff = 1
    p.grid.visible = False
    p.outline_line_color = "#999999"
    p.outline_line_width = 0.5
    p.border_fill_color = None
    p.background_fill_color = "white"
    p.styles = {"outline": "3px solid black", "outline-offset": "-3px", "background-color": "white"}
    for ax in (p.xaxis[0], p.yaxis[0]):
        ax.ticker = FixedTicker(ticks=TICKS)
        ax.formatter = PrintfTickFormatter(format="%.1f")
        ax.major_label_text_font_size = "3px"
        ax.axis_label_text_font_size = "2.8px"
        ax.axis_label_text_font_style = "normal"
        ax.major_label_text_font = "DejaVu Sans"
        ax.axis_label_text_font = "DejaVu Sans"
        ax.major_label_text_color = "#333333"
        ax.axis_label_text_color = "#333333"
        ax.major_tick_out = 1
        ax.major_tick_in = 0
        ax.minor_tick_out = 0
        ax.minor_tick_in = 0
        ax.major_tick_line_color = "#666666"
        ax.major_tick_line_width = 0.4
        ax.major_label_standoff = 1
        ax.axis_label_standoff = 1
        ax.axis_line_color = None
    p.xaxis.axis_label = "False Positive Rate"
    p.yaxis.axis_label = "True Positive Rate"

    p.line(CHANCE, CHANCE, color="#555555", line_width=0.4)
    lr = LR_CURVES[i]
    mlp = MLP_CURVES[i]
    r_lr = p.line([a for a, b in lr], [b for a, b in lr], color=LR_COLOR, line_width=1.0)
    r_rf = p.line(RF_FPR, RF_TPR, color=RF_COLOR, line_width=0.9)
    r_mlp = p.line([a for a, b in mlp], [b for a, b in mlp], color=MLP_COLOR, line_width=0.8)
    legend = Legend(items=[
        LegendItem(label="ROC curve of LR\nAUC:%.3f" % AUC_LR[i], renderers=[r_lr]),
        LegendItem(label="ROC curve of RF\nAUC:%.3f" % AUC_RF[i], renderers=[r_rf]),
        LegendItem(label="ROC curve of MLP\nAUC:%.3f" % AUC_MLP[i], renderers=[r_mlp]),
    ], location="bottom_right")
    legend.label_text_font_size = "2.8px"
    legend.label_text_font = "DejaVu Sans"
    legend.label_text_color = "#555555"
    legend.label_height = 8
    legend.label_width = 10
    legend.glyph_height = 8
    legend.glyph_width = 7
    legend.spacing = 1
    legend.padding = 2
    legend.margin = 3
    legend.label_standoff = 2
    legend.border_line_color = "#cccccc"
    legend.border_line_width = 0.4
    legend.background_fill_alpha = 0.8
    p.add_layout(legend)
    return p


title_fig = blank_fig(1528, 115, 115)
title_fig.text(x=[0.5], y=[67], text=[SUPTITLE], text_align="center", text_baseline="alphabetic",
               text_font_size="50px", text_font=FONT, text_color="black")

rows = []
for r in range(6):
    rows.append([number_fig(r * 12 + c) for c in range(12)])
    rows.append([thumb_fig(r * 12 + c) for c in range(12)])

grid = gridplot(rows, toolbar_location=None)
grid.spacing = (0, 19)

layout = column(title_fig, row(Spacer(width=44, height=10), grid))

open("out.html", "w").write(file_html(layout, INLINE))
